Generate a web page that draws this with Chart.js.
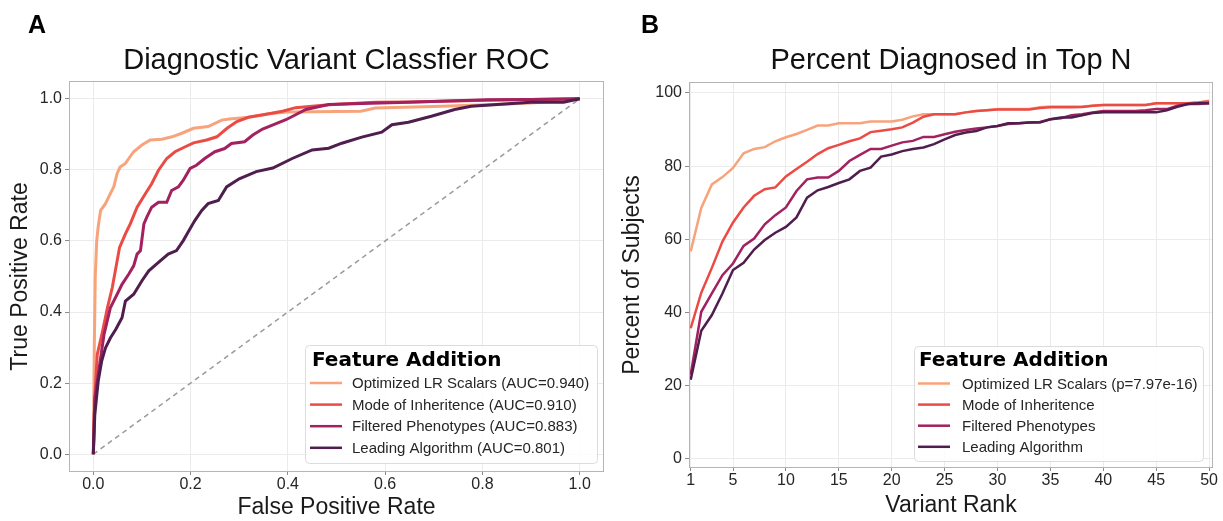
<!DOCTYPE html>
<html>
<head>
<meta charset="utf-8">
<script src="https://cdn.jsdelivr.net/npm/chart.js@4.4.1/dist/chart.umd.min.js"></script>
<style>
  html, body { margin: 0; padding: 0; background: #fff; }
  #wrap { position: relative; width: 1223px; height: 521px; }
  .panel { position: absolute; top: 0; height: 521px; }
</style>
</head>
<body>
<div id="wrap">
  <div class="panel" style="left:0;width:611px"><canvas id="roc"></canvas></div>
  <div class="panel" style="left:611px;width:612px"><canvas id="topn"></canvas></div>
</div>
<script>
// ---- ROC curves ----
const fprOptimized = [0, 0.002, 0.004, 0.007, 0.01, 0.015, 0.025, 0.035, 0.042, 0.049, 0.055, 0.066, 0.073, 0.083, 0.1, 0.117, 0.141, 0.162, 0.182, 0.206, 0.236, 0.264, 0.28, 0.314, 0.36, 0.4, 0.55, 0.58, 0.7, 0.824, 0.9, 0.967, 1.0];
const tprOptimized = [0, 0.3, 0.5, 0.6, 0.64, 0.686, 0.705, 0.733, 0.752, 0.79, 0.808, 0.818, 0.832, 0.851, 0.87, 0.884, 0.886, 0.893, 0.903, 0.917, 0.922, 0.94, 0.943, 0.947, 0.958, 0.963, 0.965, 0.974, 0.978, 0.984, 0.988, 0.996, 1.0];

const fprMode = [0, 0.003, 0.008, 0.019, 0.029, 0.039, 0.054, 0.066, 0.076, 0.09, 0.107, 0.12, 0.134, 0.151, 0.168, 0.189, 0.206, 0.233, 0.254, 0.275, 0.295, 0.319, 0.35, 0.389, 0.416, 0.484, 0.58, 0.647, 0.81, 0.9, 1.0];
const tprMode = [0, 0.157, 0.28, 0.346, 0.412, 0.469, 0.582, 0.62, 0.648, 0.695, 0.733, 0.761, 0.799, 0.832, 0.851, 0.865, 0.876, 0.884, 0.893, 0.917, 0.936, 0.948, 0.955, 0.965, 0.975, 0.983, 0.99, 0.991, 0.996, 0.998, 1.0];

const fprFiltered = [0, 0.003, 0.013, 0.022, 0.035, 0.049, 0.059, 0.073, 0.083, 0.09, 0.097, 0.104, 0.11, 0.12, 0.134, 0.151, 0.161, 0.175, 0.185, 0.199, 0.212, 0.229, 0.25, 0.27, 0.284, 0.311, 0.328, 0.348, 0.396, 0.416, 0.437, 0.484, 0.552, 0.648, 0.81, 0.9, 1.0];
const tprFiltered = [0, 0.157, 0.252, 0.337, 0.412, 0.45, 0.478, 0.507, 0.53, 0.563, 0.573, 0.648, 0.667, 0.695, 0.709, 0.709, 0.742, 0.752, 0.771, 0.804, 0.813, 0.832, 0.851, 0.86, 0.874, 0.879, 0.898, 0.915, 0.941, 0.955, 0.97, 0.984, 0.987, 0.99, 0.997, 0.998, 1.0];

const fprLeading = [0, 0.003, 0.01, 0.017, 0.025, 0.035, 0.046, 0.059, 0.066, 0.083, 0.1, 0.114, 0.134, 0.154, 0.171, 0.185, 0.195, 0.209, 0.223, 0.236, 0.257, 0.274, 0.3, 0.335, 0.369, 0.409, 0.45, 0.484, 0.511, 0.552, 0.593, 0.614, 0.648, 0.695, 0.743, 0.777, 0.831, 0.899, 0.967, 1.0];
const tprLeading = [0, 0.11, 0.205, 0.261, 0.299, 0.327, 0.351, 0.384, 0.431, 0.45, 0.488, 0.516, 0.54, 0.563, 0.573, 0.601, 0.625, 0.658, 0.686, 0.705, 0.714, 0.752, 0.775, 0.795, 0.805, 0.832, 0.856, 0.861, 0.875, 0.892, 0.906, 0.927, 0.934, 0.951, 0.97, 0.979, 0.984, 0.99, 0.99, 1.0];

const chanceX = [0, 1];
const chanceY = [0, 1];

// ---- Percent diagnosed in top N ----
const ranks = [1, 2, 3, 4, 5, 6, 7, 8, 9, 10, 11, 12, 13, 14, 15, 16, 17, 18, 19, 20, 21, 22, 23, 24, 25, 26, 27, 28, 29, 30, 31, 32, 33, 34, 35, 36, 37, 38, 39, 40, 41, 42, 43, 44, 45, 46, 47, 48, 49, 50];
const pctOptimized = [56.7, 68.6, 75.0, 77.0, 79.5, 83.5, 84.7, 85.2, 86.8, 87.9, 88.8, 89.9, 91.1, 91.1, 91.7, 91.7, 91.7, 92.2, 92.2, 92.2, 92.7, 93.6, 94.2, 94.2, 94.2, 94.2, 94.7, 95.1, 95.3, 95.6, 95.6, 95.6, 95.6, 96.1, 96.3, 96.3, 96.3, 96.3, 96.5, 96.7, 96.7, 96.7, 96.7, 96.7, 97.2, 97.2, 97.2, 97.2, 97.4, 97.9];
const pctMode = [35.7, 45.4, 52.2, 59.4, 64.6, 68.7, 71.9, 73.7, 74.2, 77.2, 79.2, 81.2, 83.3, 84.9, 85.8, 86.8, 87.6, 89.3, 89.7, 90.1, 90.6, 91.9, 93.5, 94.2, 94.2, 94.2, 94.7, 95.1, 95.3, 95.5, 95.5, 95.5, 95.5, 95.9, 96.1, 96.1, 96.1, 96.2, 96.5, 96.7, 96.7, 96.7, 96.7, 96.7, 97.2, 97.2, 97.2, 97.2, 97.4, 97.7];
const pctFiltered = [23.0, 40.2, 45.2, 50.2, 53.4, 58.2, 60.2, 64.1, 66.6, 68.7, 73.2, 76.4, 76.9, 76.9, 78.7, 81.4, 83.1, 84.7, 84.7, 85.6, 86.5, 86.9, 88.0, 88.0, 88.7, 89.4, 89.9, 90.3, 90.6, 91.0, 91.5, 91.7, 91.9, 92.1, 92.8, 93.1, 93.9, 94.2, 94.7, 95.1, 95.1, 95.1, 95.1, 95.3, 95.6, 95.6, 96.5, 97.0, 97.0, 97.2];
const pctLeading = [21.6, 35.0, 39.3, 45.2, 51.6, 53.6, 57.2, 59.8, 61.8, 63.4, 66.0, 71.4, 73.4, 74.3, 75.4, 76.4, 78.7, 79.6, 82.6, 83.2, 84.1, 84.7, 85.1, 86.0, 87.3, 88.5, 89.2, 89.6, 90.6, 91.0, 91.7, 91.7, 91.9, 91.9, 92.8, 93.3, 93.3, 93.9, 94.5, 94.7, 94.7, 94.7, 94.7, 94.7, 94.7, 95.3, 96.2, 97.0, 97.2, 97.2];

// ---- ticks & labels ----
const rateTicks = [0, 0.2, 0.4, 0.6, 0.8, 1.0];
const percentTicks = [0, 20, 40, 60, 80, 100];
const rankTicks = [1, 5, 10, 15, 20, 25, 30, 35, 40, 45, 50];
const rocLabels = ['Optimized LR Scalars (AUC=0.940)', 'Mode of Inheritence (AUC=0.910)', 'Filtered Phenotypes (AUC=0.883)', 'Leading Algorithm (AUC=0.801)'];
const topNLabels = ['Optimized LR Scalars (p=7.97e-16)', 'Mode of Inheritence', 'Filtered Phenotypes', 'Leading Algorithm'];
const legendTitle = 'Feature Addition';

const seriesColors = ['#f7a37c', '#eb4b45', '#a2215e', '#4f1e4f'];

Chart.defaults.font.family = "'Liberation Sans', Arial, sans-serif";
Chart.defaults.color = '#222';

function pts(xs, ys) {
    return xs.map((x, i) => ({ x: x, y: ys[i] }));
}

// frame, panel letter and matplotlib-like legend
const figurePlugin = {
    id: 'figure',
    afterDatasetsDraw(chart, args, o) {
        const { ctx, chartArea: a } = chart;
        ctx.save();
        ctx.strokeStyle = '#b5b5b5';
        ctx.lineWidth = 1;
        ctx.strokeRect(a.left + 0.5, a.top + 0.5, a.right - a.left - 1, a.bottom - a.top - 1);
        ctx.restore();
    },
    afterDraw(chart, args, o) {
        const ctx = chart.ctx;
        ctx.save();
        // panel letter
        ctx.fillStyle = '#000';
        ctx.font = "bold 25px 'Liberation Sans', Arial, sans-serif";
        ctx.textBaseline = 'alphabetic';
        ctx.textAlign = 'left';
        ctx.fillText(o.letter, o.letterX, o.letterY);

        // legend box
        const L = o.legend;
        ctx.beginPath();
        ctx.roundRect(L.x + 0.5, L.y + 0.5, L.w, L.h, 4);
        ctx.fillStyle = 'rgba(255,255,255,0.85)';
        ctx.fill();
        ctx.strokeStyle = '#dcdcdc';
        ctx.lineWidth = 1;
        ctx.stroke();

        ctx.fillStyle = '#000';
        ctx.font = "bold 20px 'DejaVu Sans', sans-serif";
        ctx.fillText(legendTitle, L.titleX, L.titleY);

        ctx.font = "15px 'Liberation Sans', Arial, sans-serif";
        chart.data.datasets.filter(d => d.inLegend).forEach((d, i) => {
            const y = L.rowY + i * L.rowGap;
            ctx.strokeStyle = d.borderColor;
            ctx.lineWidth = 2.5;
            ctx.beginPath();
            ctx.moveTo(L.lineX0, y - 5);
            ctx.lineTo(L.lineX1, y - 5);
            ctx.stroke();
            ctx.fillStyle = '#262626';
            ctx.fillText(d.label, L.textX, y);
        });
        ctx.restore();
    }
};

function axis(min, max, tickVals, fmt, titleText, titlePad, fitSize, horizontal) {
    const a = {
        type: 'linear',
        min: min,
        max: max,
        afterBuildTicks: s => { s.ticks = tickVals.map(v => ({ value: v })); },
        ticks: { callback: fmt, font: { size: 16 }, color: '#262626', padding: 3, autoSkip: false, maxRotation: 0 },
        grid: { color: '#ebebeb', lineWidth: 1, tickColor: '#8c8c8c', tickLength: 4 },
        border: { display: false },
        title: { display: true, text: titleText, font: { size: 23 }, color: '#1a1a1a', padding: titlePad }
    };
    if (horizontal) {
        a.afterFit = s => { s.height = fitSize; };
        a.ticks.padding = 0;
        a.grid.tickLength = 3;
    } else {
        a.afterFit = s => { s.width = fitSize; };
    }
    return a;
}

function lineSet(label, data, color, width, order) {
    return {
        label: label, data: data, borderColor: color, backgroundColor: color,
        borderWidth: width, pointRadius: 0, tension: 0, fill: false, order: order, inLegend: true
    };
}

// ---- A: ROC ----
new Chart(document.getElementById('roc'), {
    type: 'line',
    data: {
        datasets: [
            lineSet(rocLabels[0], pts(fprOptimized, tprOptimized), seriesColors[0], 3, 4),
            lineSet(rocLabels[1], pts(fprMode, tprMode), seriesColors[1], 3, 3),
            lineSet(rocLabels[2], pts(fprFiltered, tprFiltered), seriesColors[2], 3, 2),
            lineSet(rocLabels[3], pts(fprLeading, tprLeading), seriesColors[3], 3, 1),
            {
                label: 'chance', data: pts(chanceX, chanceY), borderColor: '#9a9a9a',
                borderWidth: 1.5, borderDash: [5, 4], pointRadius: 0, fill: false, order: 5, inLegend: false
            }
        ]
    },
    options: {
        responsive: true,
        maintainAspectRatio: false,
        animation: false,
        layout: { padding: { left: 0, right: 7, top: 0, bottom: 0 } },
        scales: {
            x: axis(-0.05, 1.05, rateTicks, v => v.toFixed(1), 'False Positive Rate', { top: 0, bottom: 0 }, 49, true),
            y: axis(-0.05, 1.05, rateTicks, v => v.toFixed(1), 'True Positive Rate', { top: 7, bottom: 0 }, 69, false)
        },
        plugins: {
            legend: { display: false },
            tooltip: { enabled: false },
            title: {
                display: true, fullSize: false, text: 'Diagnostic Variant Classfier ROC',
                font: { size: 29, weight: 'normal' }, color: '#111',
                padding: { top: 43.6, bottom: 2.6 }
            },
            figure: {
                letter: 'A', letterX: 28, letterY: 33,
                legend: { x: 305, y: 345, w: 292, h: 118, titleX: 312, titleY: 366,
                          rowY: 388, rowGap: 21.6, lineX0: 310, lineX1: 342, textX: 352 }
            }
        }
    },
    plugins: [figurePlugin]
});

// ---- B: Percent diagnosed in top N ----
new Chart(document.getElementById('topn'), {
    type: 'line',
    data: {
        datasets: [
            lineSet(topNLabels[0], pts(ranks, pctOptimized), seriesColors[0], 2.5, 4),
            lineSet(topNLabels[1], pts(ranks, pctMode), seriesColors[1], 2.5, 3),
            lineSet(topNLabels[2], pts(ranks, pctFiltered), seriesColors[2], 2.5, 2),
            lineSet(topNLabels[3], pts(ranks, pctLeading), seriesColors[3], 2.5, 1)
        ]
    },
    options: {
        responsive: true,
        maintainAspectRatio: false,
        animation: false,
        layout: { padding: { left: 0, right: 10, top: 0, bottom: 0 } },
        scales: {
            x: axis(0.84, 50.37, rankTicks, v => String(v), 'Variant Rank', { top: 0, bottom: 2 }, 53, true),
            y: axis(-2.5, 103, percentTicks, v => String(v), 'Percent of Subjects', { top: 8, bottom: 0 }, 78, false)
        },
        plugins: {
            legend: { display: false },
            tooltip: { enabled: false },
            title: {
                display: true, fullSize: false, text: 'Percent Diagnosed in Top N',
                font: { size: 29, weight: 'normal' }, color: '#111',
                padding: { top: 43.6, bottom: 3.6 }
            },
            figure: {
                letter: 'B', letterX: 30, letterY: 33,
                legend: { x: 303, y: 346, w: 289, h: 115, titleX: 308, titleY: 366,
                          rowY: 388.5, rowGap: 21.1, lineX0: 307, lineX1: 339, textX: 351 }
            }
        }
    },
    plugins: [figurePlugin]
});
</script>
</body>
</html>
